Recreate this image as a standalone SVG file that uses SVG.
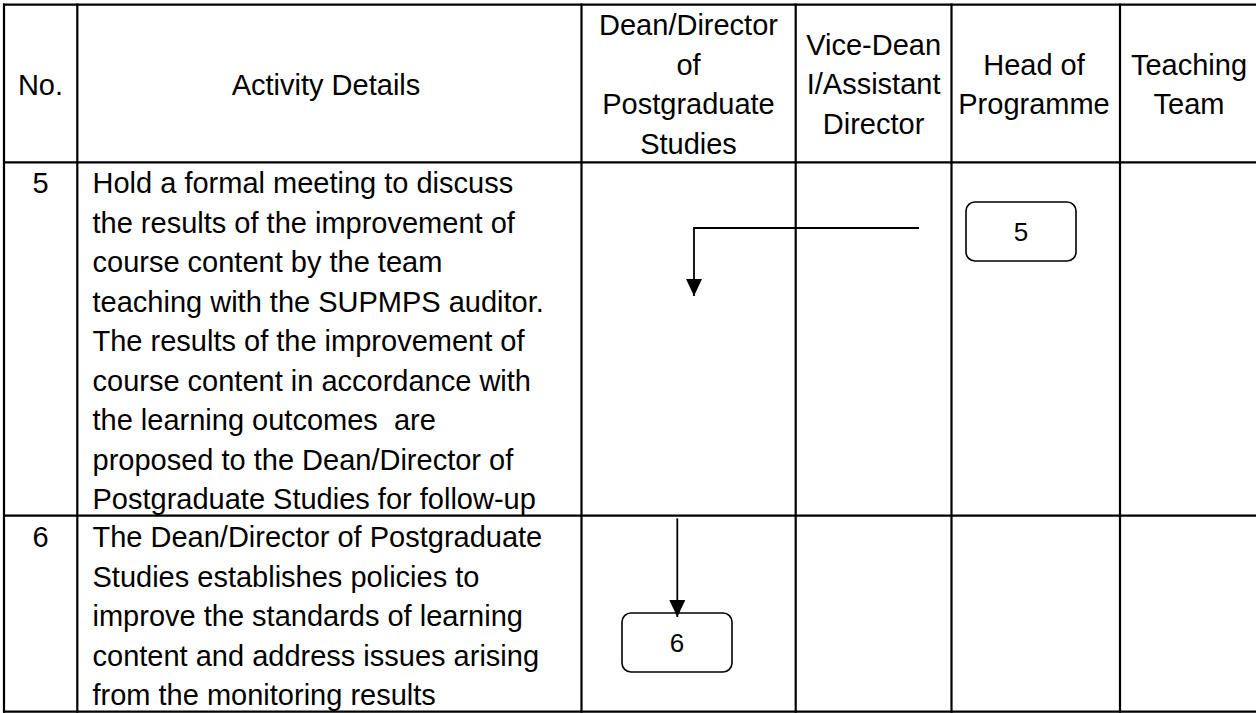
<svg xmlns="http://www.w3.org/2000/svg" width="1256" height="713" viewBox="0 0 1256 713">
<style>
.t{font-family:"Liberation Sans",Arial,sans-serif;font-size:29px;fill:#000}
.c{text-anchor:middle}
.grid{stroke:#000;stroke-width:2.2;fill:none}
.box{fill:#fff;stroke:#000;stroke-width:1.6}
.bt{font-family:"Liberation Sans",Arial,sans-serif;font-size:26px;fill:#000;text-anchor:middle}
.conn{stroke:#000;stroke-width:1.8;fill:none}
</style>
<defs>
<marker id="ah" markerUnits="userSpaceOnUse" markerWidth="17" markerHeight="16" viewBox="0 0 17 16" refX="17" refY="8" orient="auto">
<path d="M0,0 L17,8 L0,16 Z" fill="#000"/>
</marker>
</defs>
<g id="table" class="grid">
<line x1="3" y1="4.7" x2="1256" y2="4.7"/>
<line x1="3" y1="162.3" x2="1256" y2="162.3"/>
<line x1="3" y1="515.7" x2="1256" y2="515.7"/>
<line x1="3" y1="711.6" x2="1256" y2="711.6"/>
<line x1="4" y1="3.6" x2="4" y2="712.7"/>
<line x1="77.3" y1="3.6" x2="77.3" y2="712.7"/>
<line x1="581.5" y1="3.6" x2="581.5" y2="712.7"/>
<line x1="795.7" y1="3.6" x2="795.7" y2="712.7"/>
<line x1="951.5" y1="3.6" x2="951.5" y2="712.7"/>
<line x1="1120" y1="3.6" x2="1120" y2="712.7"/>
</g>
<g id="header">
<text class="t c" x="40.5" y="95">No.</text>
<text class="t c" x="326" y="95">Activity Details</text>
<text class="t c" x="688.5" y="35">Dean/Director</text>
<text class="t c" x="688.5" y="74.5">of</text>
<text class="t c" x="688.5" y="114">Postgraduate</text>
<text class="t c" x="688.5" y="153.5">Studies</text>
<text class="t c" x="873.6" y="54.6">Vice-Dean</text>
<text class="t c" x="873.6" y="94">I/Assistant</text>
<text class="t c" x="873.6" y="133.6">Director</text>
<text class="t c" x="1034" y="74.5">Head of</text>
<text class="t c" x="1034" y="114">Programme</text>
<text class="t c" x="1189" y="74.5">Teaching</text>
<text class="t c" x="1189" y="114">Team</text>
</g>
<g id="row5">
<text class="t c" x="40.5" y="193">5</text>
<text class="t" x="92.5" y="193">Hold a formal meeting to discuss</text>
<text class="t" x="92.5" y="232.5">the results of the improvement of</text>
<text class="t" x="92.5" y="272">course content by the team</text>
<text class="t" x="92.5" y="311.5">teaching with the SUPMPS auditor.</text>
<text class="t" x="92.5" y="351">The results of the improvement of</text>
<text class="t" x="92.5" y="390.5">course content in accordance with</text>
<text class="t" x="92.5" y="430" xml:space="preserve">the learning outcomes  are</text>
<text class="t" x="92.5" y="469.5">proposed to the Dean/Director of</text>
<text class="t" x="92.5" y="509">Postgraduate Studies for follow-up</text>
</g>
<g id="row6">
<text class="t c" x="40.5" y="547">6</text>
<text class="t" x="92.5" y="547">The Dean/Director of Postgraduate</text>
<text class="t" x="92.5" y="586.5">Studies establishes policies to</text>
<text class="t" x="92.5" y="626">improve the standards of learning</text>
<text class="t" x="92.5" y="665.5">content and address issues arising</text>
<text class="t" x="92.5" y="705">from the monitoring results</text>
</g>
<g id="node5">
<rect class="box" x="966" y="202" width="110" height="59" rx="9"/>
<text class="bt" x="1021" y="241">5</text>
</g>
<g id="node6">
<rect class="box" x="622" y="613" width="110" height="59" rx="9"/>
<text class="bt" x="677" y="652">6</text>
</g>
<g id="connectors">
<path class="conn" d="M919,228 H694 V296" marker-end="url(#ah)"/>
<path class="conn" d="M677.3,518.3 V617" marker-end="url(#ah)"/>
</g>
</svg>
